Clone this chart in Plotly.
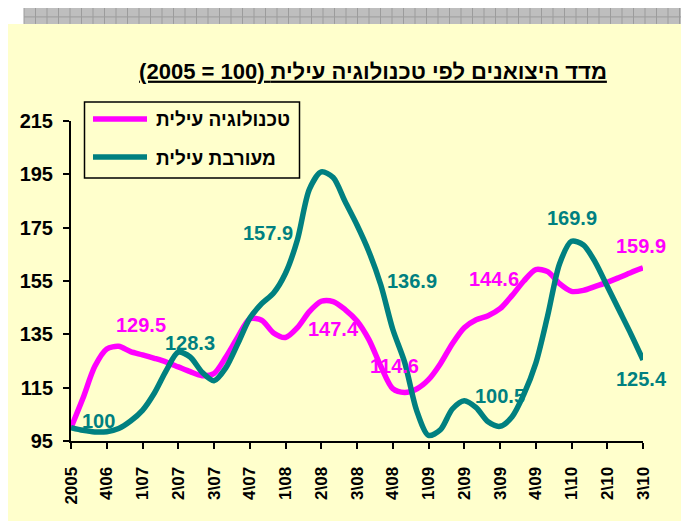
import plotly.graph_objects as go

# ---------------- data ----------------
tick_labels = ["2005", "4\\06", "1\\07", "2\\07", "3\\07", "4\\07", "1\\08", "2\\08", "3\\08",
               "4\\08", "1\\09", "2\\09", "3\\09", "4\\09", "1\\10", "2\\10", "3\\10"]

# monthly observations, three per quarter interval (49 points, position index / 3)
tech_name = "טכנולוגיה עילית"
tech_vals = [100, 111, 123, 129.5, 130.5, 128.5, 127.3, 126, 124.6, 122.8, 121, 119.5,
             120.3, 126.5, 134, 140.8, 140.3, 135.5, 133.8, 137.5, 143.5, 147.4, 147.3, 144.3,
             140, 133, 123, 114.6, 113.2, 114.5, 118, 124, 131.5, 137.5, 140.5, 142,
             144.6, 149.5, 155, 159.3, 158.5, 154, 151.1, 151.5, 153, 154.5, 156.3, 158.2,
             159.9]

mixed_name = "מעורבת עילית"
mixed_vals = [100, 99, 98.4, 98.5, 99.7, 102.5, 106.5, 113, 121.5, 128.3, 126.5, 120.8,
              117.6, 122.5, 131.5, 141, 146.5, 150.5, 157.9, 170.5, 189.4, 195.9, 193.8, 184.8,
              176, 166, 153.5, 136.9, 124.5, 106.5, 97.1, 99.2, 107, 110.1, 107.5, 102.2,
              100.5, 104, 112.5, 124.1, 142, 161.5, 169.9, 168.5, 162, 153, 144, 135,
              125.4]

# labelled points (index in the monthly series)
tech_label_idx = [3, 21, 27, 36, 48]
mixed_label_idx = [0, 9, 18, 27, 36, 42, 48]

y_ticks = [95, 115, 135, 155, 175, 195, 215]
title_text = "(2005 = 100) מדד היצואנים לפי טכנולוגיה עילית"

PINK = "#FF00FF"
TEAL = "#008080"
YELLOW = "#FFFFCC"
FONT = "Liberation Sans, Arial, sans-serif"

xs = [i / 3 for i in range(len(tech_vals))]

fig = go.Figure()
fig.add_trace(go.Scatter(x=xs, y=tech_vals, mode="lines", name=tech_name,
                         line=dict(color=PINK, width=5.5, shape="spline", smoothing=0.8),
                         hoverinfo="skip", showlegend=False))
fig.add_trace(go.Scatter(x=xs, y=mixed_vals, mode="lines", name=mixed_name,
                         line=dict(color=TEAL, width=5.5, shape="spline", smoothing=0.8),
                         hoverinfo="skip", showlegend=False))

# data labels (offsets in pixels)
tech_offsets = [(34, 24), (12, -28), (2, 23), (-6, 30), (-2, 22)]
mixed_offsets = [(27, 7), (12, 9), (-18, 40), (19, 48), (0, 30), (0, 23), (-2, -19)]
annotations = []
for idx, (dx, dy) in zip(tech_label_idx, tech_offsets):
    annotations.append(dict(x=xs[idx], y=tech_vals[idx], xref="x", yref="y",
                            text=f"{tech_vals[idx]:g}", showarrow=False, xshift=dx, yshift=dy,
                            font=dict(family=FONT, size=20, color=PINK, weight="bold")))
for idx, (dx, dy) in zip(mixed_label_idx, mixed_offsets):
    annotations.append(dict(x=xs[idx], y=mixed_vals[idx], xref="x", yref="y",
                            text=f"{mixed_vals[idx]:g}", showarrow=False, xshift=dx, yshift=dy,
                            font=dict(family=FONT, size=20, color=TEAL, weight="bold")))

# ---------------- geometry (page pixels; page has an 8px body margin) ----------------
OFF = 8
W, H = 681, 513
L, R, T, B = 71 - OFF, 46, 121 - OFF, 80.3
pw, ph = W - L - R, H - T - B


def px(x):
    return (x - OFF - L) / pw


def py(y):
    return (H - B - (y - OFF)) / ph


shapes = []
shapes.append(dict(type="rect", xref="paper", yref="paper", x0=px(24), x1=px(700), y0=py(24), y1=py(8),
                   fillcolor="#BEBEBE", line=dict(width=0), layer="below"))
shapes.append(dict(type="rect", xref="paper", yref="paper", x0=px(681), x1=px(700), y0=py(530), y1=py(8),
                   fillcolor="#BEBEBE", line=dict(width=0), layer="below"))
gx = 24
while gx < 689:
    shapes.append(dict(type="line", xref="paper", yref="paper", x0=px(gx), x1=px(gx), y0=py(24), y1=py(8),
                       line=dict(color="#9C9C9C", width=1), layer="below"))
    gx += 11.5
shapes.append(dict(type="line", xref="paper", yref="paper", x0=px(24), x1=px(700), y0=py(17), y1=py(17),
                   line=dict(color="#9C9C9C", width=1), layer="below"))
gy = 30
while gy < 521:
    shapes.append(dict(type="line", xref="paper", yref="paper", x0=px(681), x1=px(700), y0=py(gy), y1=py(gy),
                       line=dict(color="#9C9C9C", width=1), layer="below"))
    gy += 10.5
shapes.append(dict(type="rect", xref="paper", yref="paper", x0=px(8), x1=px(681), y0=py(530), y1=py(24),
                   fillcolor=YELLOW, line=dict(width=0), layer="below"))

# legend drawn as a framed box
shapes.append(dict(type="rect", xref="paper", yref="paper", x0=px(84.5), x1=px(299.5), y0=py(178), y1=py(102),
                   line=dict(color="black", width=1.5), fillcolor="rgba(0,0,0,0)"))
for yy, col in ((119, PINK), (157, TEAL)):
    shapes.append(dict(type="line", xref="paper", yref="paper", x0=px(93), x1=px(147), y0=py(yy), y1=py(yy),
                       line=dict(color=col, width=5.5)))
for yy, name in ((120, tech_name), (158, mixed_name)):
    annotations.append(dict(x=px(154), y=py(yy), xref="paper", yref="paper", xanchor="left",
                            yanchor="middle", text=name, showarrow=False,
                            font=dict(family=FONT, size=19, color="black", weight="bold")))

fig.update_layout(
    width=W, height=H,
    margin=dict(l=L, r=R, t=T, b=B, pad=0),
    paper_bgcolor="white",
    plot_bgcolor="rgba(0,0,0,0)",
    shapes=shapes,
    annotations=annotations,
    title=dict(text="<u>" + title_text + "</u>", x=(373 - OFF) / W, xanchor="center",
               y=1 - (71 - OFF) / H, yanchor="middle", yref="container",
               font=dict(family=FONT, size=22, color="black", weight="bold")),
    showlegend=False,
    xaxis=dict(range=[0, 16], tickmode="array", tickvals=list(range(17)), ticktext=tick_labels,
               tickangle=-90, ticks="outside", ticklen=6, tickwidth=2, tickcolor="black",
               showline=True, linecolor="black", linewidth=2, showgrid=False, zeroline=False,
               ticklabelstandoff=11,
               tickfont=dict(family=FONT, size=17, color="black", weight="bold")),
    yaxis=dict(range=[95, 215], tickmode="array", tickvals=y_ticks,
               ticks="outside", ticklen=6, tickwidth=2, tickcolor="black",
               showline=True, linecolor="black", linewidth=2, showgrid=False, zeroline=False,
               ticklabelstandoff=6,
               tickfont=dict(family=FONT, size=20, color="black", weight="bold")),
)

fig.write_html("out.html")
